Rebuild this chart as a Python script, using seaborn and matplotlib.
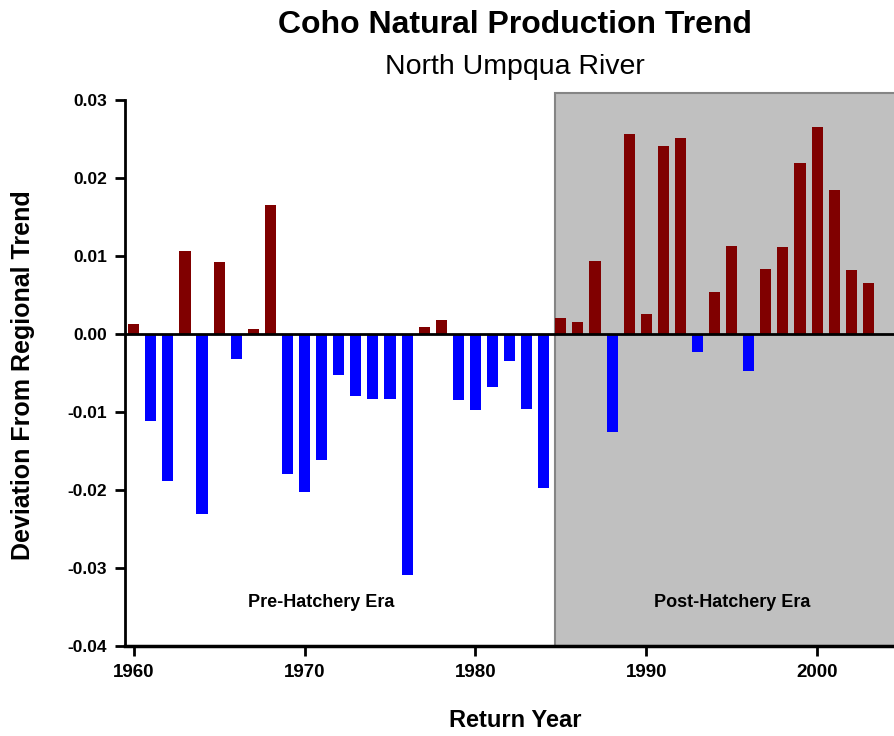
import pandas as pd
import numpy as np
import matplotlib
matplotlib.use("Agg")
import matplotlib.pyplot as plt
from matplotlib.patches import Rectangle
import seaborn as sns

# return years and deviation from the regional trend
years = list(range(1960, 2004))
deviation = [
    0.0013, -0.0111, -0.0188, 0.0106, -0.0231, 0.0092, -0.0032, 0.0006, 0.0166, -0.0180,
    -0.0203, -0.0161, -0.0052, -0.0080, -0.0083, -0.0083, -0.0309, 0.0009, 0.0018, -0.0085,
    -0.0098, -0.0068, -0.0034, -0.0096, -0.0198, 0.0021, 0.0016, 0.0094, -0.0126, 0.0257,
    0.0026, 0.0241, 0.0251, -0.0023, 0.0054, 0.0113, -0.0047, 0.0083, 0.0112, 0.0219,
    0.0266, 0.0185, 0.0082, 0.0066,
]
year_ticks = [1960, 1970, 1980, 1990, 2000]
y_ticks = [0.03, 0.02, 0.01, 0.0, -0.01, -0.02, -0.03, -0.04]

df = pd.DataFrame({"year": years, "dev": deviation})
df["sign"] = np.where(df["dev"] >= 0, "pos", "neg")

sns.set_style("ticks")
plt.rcParams["font.family"] = ["Liberation Sans Narrow", "Liberation Sans", "DejaVu Sans"]
plt.rcParams["text.color"] = "black"
plt.rcParams["xtick.color"] = "black"
plt.rcParams["ytick.color"] = "black"

fig = plt.figure(figsize=(8.94, 7.36), dpi=100)
ax = fig.add_axes([0.14, 0.1223, 0.86, 0.7418])

# grey post-hatchery panel
ax.add_patch(Rectangle((1984.65, -0.04), 25, 0.0709, facecolor="#c0c0c0",
                       edgecolor="#858585", linewidth=1.5, clip_on=False, zorder=0))

sns.barplot(data=df, x="year", y="dev", hue="sign", native_scale=True, dodge=False,
            palette={"pos": "#800000", "neg": "#0000ff"}, width=0.65, saturation=1,
            edgecolor="none", legend=False, ax=ax, zorder=2)

ax.axhline(0, color="black", linewidth=2, zorder=3)
ax.set_xlim(1959.5, 2004.5)
ax.set_ylim(-0.04, 0.03)
ax.set_xticks(year_ticks)
ax.set_yticks(y_ticks)
ax.set_yticklabels([f"{v:.2f}" for v in y_ticks])
ax.tick_params(axis="both", width=2, length=7, direction="out", pad=6)
ax.tick_params(axis="x", labelsize=13.5)
ax.tick_params(axis="y", labelsize=12.5)
for lab in ax.get_xticklabels() + ax.get_yticklabels():
    lab.set_fontweight("bold")
ax.set_xlabel("")
ax.set_ylabel("")
sns.despine(ax=ax, top=True, right=True)
ax.spines["left"].set_linewidth(2)
ax.spines["bottom"].set_linewidth(2.5)
ax.spines["left"].set_color("black")
ax.spines["bottom"].set_color("black")
ax.spines["left"].set_zorder(4)
ax.spines["bottom"].set_zorder(4)
ax.set_facecolor("white")

ax.text(1971, -0.0344, "Pre-Hatchery Era", ha="center", va="center", fontsize=13, fontweight="bold")
ax.text(1995, -0.0344, "Post-Hatchery Era", ha="center", va="center", fontsize=13, fontweight="bold")

fig.text(0.576, 0.966, "Coho Natural Production Trend", ha="center", va="center",
         fontsize=23, fontweight="bold")
fig.text(0.576, 0.909, "North Umpqua River", ha="center", va="center", fontsize=20.5)
fig.text(0.576, 0.021, "Return Year", ha="center", va="center", fontsize=17, fontweight="bold")
fig.text(0.026, 0.49, "Deviation From Regional Trend", ha="center", va="center",
         rotation=90, fontsize=18, fontweight="bold")

fig.savefig("out.png", dpi=100)
